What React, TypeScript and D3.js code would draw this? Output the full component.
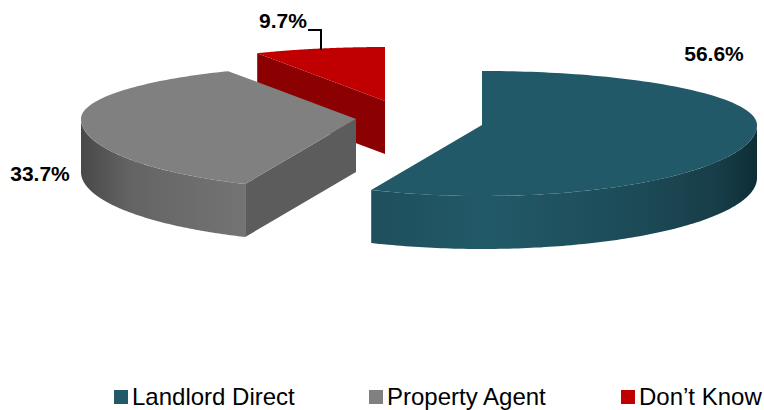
import React from "react";
import * as d3 from "d3";

const categories = ["Landlord Direct", "Property Agent", "Don’t Know"];
const shares = [56.6, 33.7, 9.7];
const labels = ["56.6%", "33.7%", "9.7%"];
const topColors = ["#225968", "#808080", "#c00000"];
const centers: [number, number][] = [[482, 125], [356, 119], [385, 101]];
const labelPos: [number, number][] = [[714, 61], [40, 181], [283, 28]];
const legendX = [114, 369, 621];

const W = 764, H = 410;
const RX = 275, RY_BACK = 54, RY_FRONT = 71, DEPTH = 53, BACK_Q = 0.752;

const arcs = d3.pie<number>().sort(null)(shares);

// projects a pie angle (clockwise from top) onto the tilted disc
function project(a: number, c: [number, number]): [number, number] {
  let t = a;
  const fromTop = Math.atan2(Math.sin(a), Math.cos(a));
  if (Math.abs(fromTop) < Math.PI / 2) t = Math.atan(Math.tan(fromTop) * BACK_Q);
  const s = Math.sin(t), k = Math.cos(t);
  return [c[0] + RX * s, c[1] - k * (k >= 0 ? RY_BACK : RY_FRONT)];
}
const samples = (a0: number, a1: number) => d3.range(0, 121).map((i) => a0 + ((a1 - a0) * i) / 120);
const line = d3.line<[number, number]>();
const down = (p: [number, number]): [number, number] => [p[0], p[1] + DEPTH];

function topPath(i: number) {
  const c = centers[i];
  const pts = samples(arcs[i].startAngle, arcs[i].endAngle).map((a) => project(a, c));
  return line([c, ...pts]) + "Z";
}
function sidePath(i: number, a0: number, a1: number) {
  const pts = samples(a0, a1).map((a) => project(a, centers[i]));
  return line([...pts, ...pts.slice().reverse().map(down)]) + "Z";
}
function cutFace(i: number, a: number) {
  const c = centers[i];
  const p = project(a, c);
  return line([c, p, down(p), down(c)]) + "Z";
}

export default function App() {
  const teal = arcs[0], grey = arcs[1], red = arcs[2];
  return (
    <svg width={W} height={H} viewBox={`0 0 ${W} ${H}`} style={{ position: "absolute", left: 0, top: 0, background: "#fff" }}>
      <defs>
        <linearGradient id="tealSide" gradientUnits="userSpaceOnUse" x1={372} x2={757} y1={0} y2={0}>
          <stop offset="0" stopColor="#1e4f5c" />
          <stop offset="0.3" stopColor="#225968" />
          <stop offset="0.7" stopColor="#1c4a56" />
          <stop offset="0.9" stopColor="#173d48" />
          <stop offset="1" stopColor="#0e2d35" />
        </linearGradient>
        <linearGradient id="greySide" gradientUnits="userSpaceOnUse" x1={81} x2={246} y1={0} y2={0}>
          <stop offset="0" stopColor="#484848" />
          <stop offset="0.3" stopColor="#646464" />
          <stop offset="1" stopColor="#747474" />
        </linearGradient>
      </defs>

      {/* red slice */}
      <path d={cutFace(2, red.startAngle)} fill="#8b0000" />
      <path d={topPath(2)} fill={topColors[2]} />

      {/* grey slice */}
      <path d={sidePath(1, grey.startAngle, (3 * Math.PI) / 2)} fill="url(#greySide)" />
      <path d={cutFace(1, grey.startAngle)} fill="#5c5c5c" />
      <path d={topPath(1)} fill={topColors[1]} />

      {/* teal slice */}
      <path d={sidePath(0, Math.PI / 2, teal.endAngle)} fill="url(#tealSide)" />
      <path d={topPath(0)} fill={topColors[0]} />

      {/* leader */}
      <path d="M308,30H321V50" fill="none" stroke="#000" strokeWidth={2} />

      {labels.map((t, i) => (
        <text key={t} x={labelPos[i][0]} y={labelPos[i][1]} textAnchor="middle" fontFamily="Liberation Sans" fontWeight="bold" fontSize={21} fill="#000">
          {t}
        </text>
      ))}

      {categories.map((t, i) => (
        <g key={t}>
          <rect x={legendX[i]} y={390} width={14} height={14} fill={topColors[i]} />
          <text x={legendX[i] + 18} y={405} fontFamily="Liberation Sans" fontSize={24} fill="#000">
            {t}
          </text>
        </g>
      ))}
    </svg>
  );
}
